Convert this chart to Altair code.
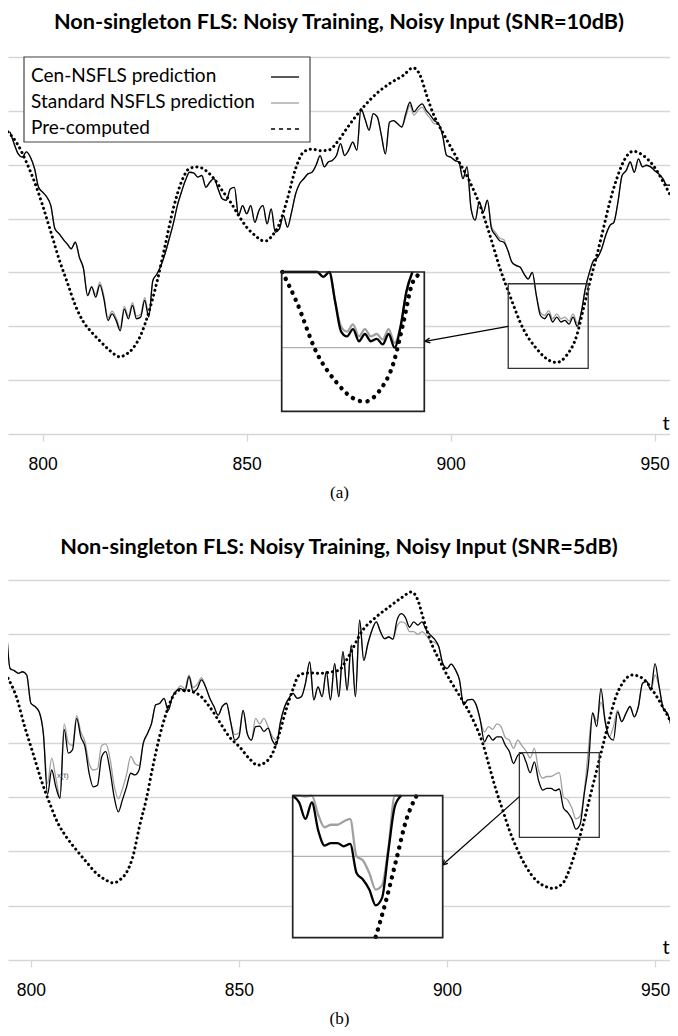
import altair as alt
import pandas as pd

# ---------------- data ----------------
X_TICKS = [800, 850, 900, 950]
GRID_VALUES = [1, 2, 3, 4, 5, 6, 7]

# Panel (a) SNR=10dB
T_A = list(range(792, 957))
CEN_A = [5.61, 5.39, 5.20, 5.14, 5.24, 5.14, 4.93, 4.58, 4.49, 4.40,
         4.24, 3.81, 3.72, 3.62, 3.53, 3.44, 3.56, 3.28, 3.07, 2.57,
         2.73, 2.54, 2.77, 2.51, 2.11, 2.23, 2.11, 1.92, 2.32, 2.14,
         2.39, 2.14, 2.17, 2.48, 2.17, 2.85, 2.97, 3.13, 3.35, 3.62,
         3.90, 4.24, 4.49, 4.71, 4.86, 4.85, 4.77, 4.80, 4.58, 4.68,
         4.74, 4.55, 4.37, 4.34, 4.55, 4.58, 4.06, 4.24, 4.09, 4.24,
         3.93, 4.15, 4.24, 3.90, 4.18, 3.75, 3.81, 4.06, 3.84, 4.12,
         4.46, 4.65, 4.74, 4.83, 4.86, 4.99, 5.17, 4.96, 5.05, 5.08,
         5.17, 5.39, 5.17, 5.27, 5.42, 5.27, 6.04, 5.85, 5.64, 5.95,
         5.89, 5.55, 5.20, 5.79, 5.82, 5.76, 5.70, 5.95, 6.16, 5.98,
         6.07, 6.13, 6.01, 5.92, 5.82, 5.76, 5.55, 5.17, 5.14, 5.08,
         5.05, 4.74, 4.96, 4.18, 3.97, 4.31, 4.12, 4.34, 3.81, 3.69,
         3.59, 3.56, 3.41, 3.19, 3.13, 3.10, 2.97, 2.88, 3.00, 2.57,
         2.20, 2.14, 2.23, 2.08, 2.17, 2.08, 2.11, 2.04, 2.17, 2.00,
         2.26, 2.70, 3.00, 3.22, 3.28, 3.44, 3.69, 3.87, 3.93, 4.31,
         4.80, 4.89, 5.05, 4.86, 5.11, 4.96, 4.99, 4.96, 4.89, 4.83,
         4.74, 4.62, 4.62, 4.31, 4.09]
STD_A = [5.61, 5.39, 5.20, 5.14, 5.24, 5.14, 4.93, 4.58, 4.49, 4.40,
         4.24, 3.81, 3.72, 3.62, 3.53, 3.44, 3.56, 3.28, 3.07, 2.57,
         2.73, 2.59, 2.82, 2.56, 2.16, 2.28, 2.16, 1.97, 2.37, 2.19,
         2.44, 2.19, 2.22, 2.53, 2.22, 2.85, 2.97, 3.13, 3.35, 3.62,
         3.90, 4.24, 4.49, 4.71, 4.86, 4.85, 4.77, 4.80, 4.58, 4.68,
         4.74, 4.55, 4.37, 4.34, 4.55, 4.58, 4.06, 4.24, 4.09, 4.24,
         3.93, 4.15, 4.24, 3.90, 4.18, 3.75, 3.81, 4.06, 3.84, 4.12,
         4.46, 4.65, 4.74, 4.83, 4.86, 4.99, 5.17, 4.96, 5.05, 5.08,
         5.17, 5.39, 5.17, 5.27, 5.42, 5.27, 6.04, 5.85, 5.64, 5.95,
         5.89, 5.55, 5.20, 5.79, 5.82, 5.76, 5.70, 5.89, 6.10, 5.92,
         6.01, 6.07, 5.95, 5.86, 5.76, 5.76, 5.55, 5.17, 5.14, 5.08,
         5.05, 4.74, 4.96, 4.18, 3.97, 4.31, 4.12, 4.34, 3.86, 3.74,
         3.64, 3.61, 3.41, 3.19, 3.13, 3.10, 2.97, 2.88, 3.00, 2.57,
         2.26, 2.20, 2.29, 2.14, 2.23, 2.14, 2.17, 2.10, 2.23, 2.06,
         2.26, 2.70, 3.00, 3.22, 3.28, 3.44, 3.69, 3.87, 3.93, 4.31,
         4.80, 4.89, 5.05, 4.86, 5.11, 4.96, 4.99, 4.96, 4.89, 4.83,
         4.74, 4.62, 4.62, 4.31, 4.09]
PRE_A_T = [791.5, 794, 796, 798, 800, 802, 804, 806, 808, 810, 812, 814, 816,
           818, 819, 820, 822, 824, 826, 828, 830, 832, 834, 836, 838, 840,
           842, 844, 846, 848, 850, 852, 854, 855, 856, 858, 860, 862, 864,
           866, 868, 870, 872.5, 874.5, 878.6, 881.8, 885.1, 888.4, 890.8,
           892.5, 894.1, 895.7, 898.2, 901.4, 904.7, 907.2, 909.6, 912.1,
           914.5, 917.8, 921.1, 924.3, 926.0, 928.4, 930.9, 932.5, 934.1,
           935.8, 937.4, 939.0, 940.7, 942.3, 944.7, 947.2, 949.6, 952.1,
           954.6, 955.7]
PRE_A = [5.61, 5.36, 5.05, 4.68, 4.24, 3.75, 3.25, 2.82, 2.39, 2.08, 1.89,
         1.73, 1.58, 1.46, 1.43, 1.46, 1.58, 1.83, 2.26, 2.82, 3.50, 4.18,
         4.68, 4.93, 4.96, 4.89, 4.74, 4.52, 4.31, 4.06, 3.84, 3.69, 3.59,
         3.59, 3.66, 3.90, 4.37, 4.93, 5.24, 5.29, 5.26, 5.27, 5.45, 5.67,
         6.07, 6.32, 6.51, 6.66, 6.80, 6.66, 6.29, 5.95, 5.58, 5.14, 4.68,
         4.24, 3.69, 3.07, 2.57, 1.95, 1.58, 1.36, 1.33, 1.46, 1.83, 2.32,
         2.82, 3.31, 3.81, 4.31, 4.74, 5.05, 5.25, 5.17, 4.99, 4.68, 4.31,
         4.12]

# Panel (b) SNR=5dB
T_B = list(range(794, 957))
CEN_B = [6.30,
         5.37, 5.33, 5.28, 5.31, 5.25, 4.73, 4.67, 4.57, 4.17,
         3.05, 3.50, 3.19, 2.98, 4.25, 3.81, 3.87, 4.45, 4.11, 3.93,
         3.44, 3.19, 3.22, 3.74, 3.84, 3.50, 3.01, 2.73, 2.95, 3.19,
         3.44, 3.41, 3.50, 3.99, 4.17, 4.36, 4.70, 4.73, 4.82, 4.60,
         4.85, 4.96, 5.00, 4.94, 5.22, 4.94, 5.00, 5.16, 5.03, 4.82,
         4.67, 4.51, 4.67, 4.73, 4.39, 4.05, 4.11, 4.60, 4.17, 4.05,
         4.30, 4.31, 4.21, 4.27, 4.05, 3.96, 4.39, 4.67, 4.82, 4.91,
         4.82, 4.85, 5.10, 5.49, 4.79, 5.03, 4.85, 5.31, 4.79, 5.46,
         4.85, 5.68, 4.97, 5.80, 4.85, 6.26, 5.52, 5.83, 6.08, 6.23,
         6.05, 5.92, 5.95, 5.91, 6.26, 6.38, 6.31, 6.13, 6.23, 6.17,
         6.23, 6.08, 5.99, 5.91, 5.78, 5.46, 5.37, 5.45, 5.35, 5.16,
         4.70, 4.79, 4.80, 4.70, 4.42, 4.02, 4.14, 4.05, 4.11, 4.11,
         3.96, 3.84, 3.62, 3.77, 3.81, 3.65, 3.45, 3.65, 3.31, 3.13,
         3.16, 3.16, 3.12, 3.15, 2.80, 2.72, 2.60, 2.41, 2.50, 3.07,
         3.60, 4.55, 4.30, 5.00, 4.39, 4.11, 4.05, 4.57, 4.39, 4.54,
         4.67, 4.48, 4.67, 5.10, 5.13, 4.97, 5.46, 5.03, 4.63, 4.54,
         4.33, 4.30, 4.27]
STD_B = [6.30,
         5.37, 5.33, 5.28, 5.31, 5.25, 4.73, 4.67, 4.57, 4.17,
         3.25, 3.72, 3.35, 3.00, 4.35, 4.00, 3.95, 4.50, 4.20, 4.02,
         3.62, 3.50, 3.52, 3.95, 3.98, 3.72, 3.22, 2.97, 3.15, 3.42,
         3.75, 3.62, 3.58, 3.99, 4.17, 4.36, 4.70, 4.73, 4.82, 4.60,
         4.85, 4.96, 5.05, 5.00, 5.25, 5.02, 5.08, 5.20, 5.03, 4.82,
         4.67, 4.51, 4.67, 4.73, 4.39, 4.15, 4.18, 4.60, 4.17, 4.05,
         4.45, 4.35, 4.45, 4.30, 4.12, 4.05, 4.39, 4.67, 4.82, 4.91,
         4.82, 4.85, 5.10, 5.49, 4.79, 5.03, 4.85, 5.31, 4.79, 5.46,
         4.85, 5.68, 4.97, 5.80, 4.85, 6.26, 5.52, 5.83, 6.08, 6.23,
         6.05, 5.92, 5.95, 5.91, 6.15, 6.23, 6.20, 6.05, 6.05, 6.00,
         6.05, 5.98, 5.88, 5.85, 5.78, 5.46, 5.37, 5.45, 5.35, 5.16,
         4.70, 4.79, 4.80, 4.70, 4.42, 4.20, 4.30, 4.25, 4.35, 4.30,
         4.10, 4.05, 3.90, 4.05, 3.95, 3.85, 3.72, 3.90, 3.50, 3.35,
         3.38, 3.38, 3.42, 3.45, 3.00, 2.95, 2.80, 2.60, 2.65, 3.10,
         3.90, 4.55, 4.40, 4.75, 4.45, 4.11, 4.30, 4.60, 4.39, 4.54,
         4.67, 4.48, 4.67, 5.10, 5.13, 4.97, 5.25, 5.03, 4.63, 4.54,
         4.33, 4.30, 4.27]
PRE_B_T = [794.5, 796.5, 798.5, 800.5, 802.5, 804.5, 806.5, 808.5, 810.9, 813.3,
           815.7, 818.1, 819.7, 821.3, 823.3, 824.5, 826.1, 827.7, 829.3, 830.9,
           832.5, 834.1, 835.7, 837.3, 838.9, 840.5, 842.9, 845.3, 847.7, 850.1,
           852.5, 854.5, 856.5, 858.1, 859.7, 861.3, 862.9, 864.5, 866.9, 869.3,
           871.7, 874.1, 875.8, 879.8, 883.0, 886.2, 889.4, 891.4, 893.0, 894.2,
           895.4, 896.6, 898.2, 899.8, 902.2, 904.6, 907.0, 908.6, 910.2, 911.8,
           913.4, 915.0, 916.6, 919.0, 921.4, 923.8, 925.4, 927.8, 929.4, 931.0,
           932.6, 934.2, 935.8, 937.4, 939.0, 940.6, 942.2, 944.6, 947.0, 949.4,
           951.8, 954.2, 955.3]
PRE_B = [5.19, 4.85, 4.30, 3.81, 3.31, 2.89, 2.52, 2.27, 2.03, 1.81,
         1.60, 1.47, 1.42, 1.47, 1.66, 1.90, 2.46, 2.95, 3.56, 4.11,
         4.54, 4.85, 4.97, 4.97, 4.94, 4.88, 4.67, 4.39, 4.11, 3.93,
         3.71, 3.59, 3.65, 3.81, 4.17, 4.60, 4.97, 5.25, 5.29, 5.28,
         5.30, 5.34, 5.52, 6.08, 6.32, 6.51, 6.69, 6.78, 6.63, 6.32,
         6.02, 5.77, 5.52, 5.28, 4.97, 4.67, 4.30, 3.99, 3.56, 3.13,
         2.76, 2.39, 2.09, 1.72, 1.47, 1.35, 1.32, 1.41, 1.66, 2.03,
         2.46, 2.95, 3.44, 3.93, 4.42, 4.85, 5.10, 5.25, 5.19, 4.97,
         4.67, 4.30, 4.05]

# zoomed regions (t0, t1, v0, v1), insets and arrows (t_from, v_from, t_to, v_to)
ZOOM_A = [914.1, 933.7, 1.22, 2.79]
ZOOM_B = [917.4, 936.6, 2.26, 3.82]
INSET_A = [912.0, 936.0, 1.21, 2.94]
INSET_B = [918.0, 941.5, 2.02, 3.73]
INSET_LINES_A = [912.0, 934.0]
INSET_LINES_B = [918.0, 935.0]
INSET_PRE_A = [912.0, 936.0]
INSET_PRE_B = [930.0, 938.0]
ARROW_A = [914.1, 2.00, 893.7, 1.72]
ARROW_B = [917.4, 3.01, 898.9, 1.75]

LEGEND_LABELS = ["Cen-NSFLS prediction", "Standard NSFLS prediction", "Pre-computed"]

# ---------------- styles ----------------
GRID = "#d6d6d6"
GREY = "#a0a0a0"
SANS = "Lato"
W = 662
ARROW_PATH = "M0,0L1.7,-0.85M0,0L1.7,0.85"


def panel(title, caption, t, cen, std, pt, pre, xdom, height, zoom, inset,
          inset_px, inset_grid, line_rng, pre_rng, arrow, arrow_angle, title_offset,
          t_y, legend=False, note=None):
    df_cen = pd.DataFrame({"t": t, "v": cen})
    df_std = pd.DataFrame({"t": t, "v": std})
    df_pre = pd.DataFrame({"t": pt, "v": pre})

    x = alt.X("t:Q", scale=alt.Scale(domain=xdom, nice=False, zero=False),
              axis=alt.Axis(values=X_TICKS, grid=False, title=caption, format="d"))
    y = alt.Y("v:Q", scale=alt.Scale(domain=[0, 7], nice=False, zero=False),
              axis=alt.Axis(values=GRID_VALUES, grid=True, labels=False, ticks=False,
                            domain=False, title=None, gridColor=GRID, gridWidth=1.4))

    std_line = alt.Chart(df_std).mark_line(color=GREY, strokeWidth=1.3,
                                           interpolate="monotone", clip=True).encode(x=x, y=y)
    cen_line = alt.Chart(df_cen).mark_line(color="#000", strokeWidth=1.3,
                                           interpolate="monotone", clip=True).encode(x=x, y=y)
    pre_line = alt.Chart(df_pre).mark_line(color="#000", strokeWidth=3.0, strokeDash=[0.1, 4.9],
                                           strokeCap="round", interpolate="monotone",
                                           clip=True).encode(x=x, y=y)

    df_zoom = pd.DataFrame({"t": [zoom[0]], "t2": [zoom[1]], "v": [zoom[2]], "v2": [zoom[3]]})
    zoom_rect = alt.Chart(df_zoom).mark_rect(fillOpacity=0, stroke="#333", strokeWidth=1.3).encode(
        x=x, x2=alt.X2("t2"), y=y, y2=alt.Y2("v2"))

    df_arrow = pd.DataFrame({"t": [arrow[0]], "v": [arrow[1]], "t2": [arrow[2]], "v2": [arrow[3]]})
    arrow_line = alt.Chart(df_arrow).mark_rule(color="#000", strokeWidth=1.2).encode(
        x=x, y=y, x2=alt.X2("t2"), y2=alt.Y2("v2"))
    df_head = pd.DataFrame({"t": [arrow[2]], "v": [arrow[3]]})
    arrow_head = alt.Chart(df_head).mark_point(shape=ARROW_PATH, filled=False, stroke="#000",
                                               strokeWidth=1.3, size=36, opacity=1,
                                               angle=arrow_angle).encode(x=x, y=y)

    main = alt.layer(std_line, cen_line, pre_line, zoom_rect, arrow_line, arrow_head)

    # inset (magnified copy of the zoomed region)
    ix = alt.X("t:Q", scale=alt.Scale(domain=inset[:2], range=inset_px[:2], clamp=True,
                                      nice=False, zero=False), axis=None)
    iy = alt.Y("v:Q", scale=alt.Scale(domain=inset[2:], range=inset_px[2:], clamp=True,
                                      nice=False, zero=False), axis=None)
    df_box = pd.DataFrame({"t": [inset[0]], "t2": [inset[1]], "v": [inset[2]], "v2": [inset[3]]})
    box_fill = alt.Chart(df_box).mark_rect(fill="white").encode(
        x=ix, x2=alt.X2("t2"), y=iy, y2=alt.Y2("v2"))
    df_ig = pd.DataFrame({"t": [inset[0]], "t2": [inset[1]], "v": [inset_grid]})
    box_grid = alt.Chart(df_ig).mark_rule(color="#b0b0b0", strokeWidth=1.3).encode(
        x=ix, x2=alt.X2("t2"), y=iy)
    rng = alt.FieldRangePredicate(field="t", range=line_rng)
    in_std = alt.Chart(df_std).transform_filter(rng).mark_line(
        color=GREY, strokeWidth=2.3, interpolate="monotone").encode(x=ix, y=iy)
    in_cen = alt.Chart(df_cen).transform_filter(rng).mark_line(
        color="#000", strokeWidth=2.3, interpolate="monotone").encode(x=ix, y=iy)
    in_pre = alt.Chart(df_pre).transform_filter(
        alt.FieldRangePredicate(field="t", range=pre_rng)).mark_line(
        color="#000", strokeWidth=4.4, strokeDash=[0.1, 7.6], strokeCap="round",
        interpolate="monotone").encode(x=ix, y=iy)
    box_border = alt.Chart(df_box).mark_rect(fillOpacity=0, stroke="#222", strokeWidth=1.7).encode(
        x=ix, x2=alt.X2("t2"), y=iy, y2=alt.Y2("v2"))
    inset_layer = alt.layer(box_fill, box_grid, in_std, in_cen, in_pre, box_border)

    one = pd.DataFrame({"k": [0]})
    deco = [alt.Chart(one).mark_text(font=SANS, fontSize=20, align="center", baseline="middle",
                                     color="#000").encode(
        x=alt.value(W - 4), y=alt.value(t_y), text=alt.value("t"))]
    if note is not None:
        deco.append(alt.Chart(one).mark_text(font="Liberation Sans", fontSize=8, align="left",
                                             baseline="middle", color="#555").encode(
            x=alt.value(note[0]), y=alt.value(note[1]), text=alt.value(note[2])))
    if legend:
        deco.append(alt.Chart(one).mark_rect(fill="white", stroke="#444", strokeWidth=1.2).encode(
            x=alt.value(16), x2=alt.value(302), y=alt.value(0), y2=alt.value(85)))
        ys = [19, 45, 71]
        for lab, yy in zip(LEGEND_LABELS, ys):
            deco.append(alt.Chart(one).mark_text(font=SANS, fontSize=19, align="left",
                                                 baseline="middle", color="#000").encode(
                x=alt.value(23), y=alt.value(yy), text=alt.value(lab)))
        deco.append(alt.Chart(one).mark_rule(color="#000", strokeWidth=1.3).encode(
            x=alt.value(263), x2=alt.value(291), y=alt.value(20)))
        deco.append(alt.Chart(one).mark_rule(color=GREY, strokeWidth=1.3).encode(
            x=alt.value(263), x2=alt.value(291), y=alt.value(46)))
        deco.append(alt.Chart(one).mark_rule(color="#000", strokeWidth=1.5, strokeDash=[4, 4]).encode(
            x=alt.value(263), x2=alt.value(291), y=alt.value(72)))
    deco_layer = alt.layer(*deco)

    return alt.layer(main, inset_layer, deco_layer).resolve_scale(
        x="independent", y="independent").properties(
        width=W, height=height,
        title=alt.TitleParams(title, font=SANS, fontSize=21.7, fontWeight="bold", color="#000",
                              anchor="middle", offset=title_offset))


pa = panel("Non-singleton FLS: Noisy Training, Noisy Input (SNR=10dB)", "(a)",
           T_A, CEN_A, STD_A, PRE_A_T, PRE_A, [791.5, 953.75], 377,
           ZOOM_A, INSET_A, [273.7, 416.3, 354.3, 215.0], 2.0, INSET_LINES_A, INSET_PRE_A,
           ARROW_A, 350, 23, 367, legend=True)
pb = panel("Non-singleton FLS: Noisy Training, Noisy Input (SNR=5dB)", "(b)",
           T_B, CEN_B, STD_B, PRE_B_T, PRE_B, [794.5, 953.6], 380,
           ZOOM_B, INSET_B, [284.7, 434.7, 357.7, 215.7], 3.0, INSET_LINES_B, INSET_PRE_B,
           ARROW_B, 318, 21, 368, note=[49, 196, "x(t)"])

chart = alt.vconcat(pa, pb, spacing=36).properties(
    padding={"left": 0, "top": 3, "right": 0, "bottom": 0}
).configure_view(stroke=None).configure_axisX(
    labelFont="Liberation Sans", labelFontSize=17.5, labelColor="#000", labelPadding=14,
    tickSize=7, tickColor=GRID, tickWidth=1.3, domainColor=GRID, domainWidth=1.5,
    titleFont="Liberation Serif", titleFontSize=17, titleFontWeight="normal",
    titleColor="#000", titlePadding=12
)

chart.save("out.html", embed_options={"renderer": "svg", "actions": False})
